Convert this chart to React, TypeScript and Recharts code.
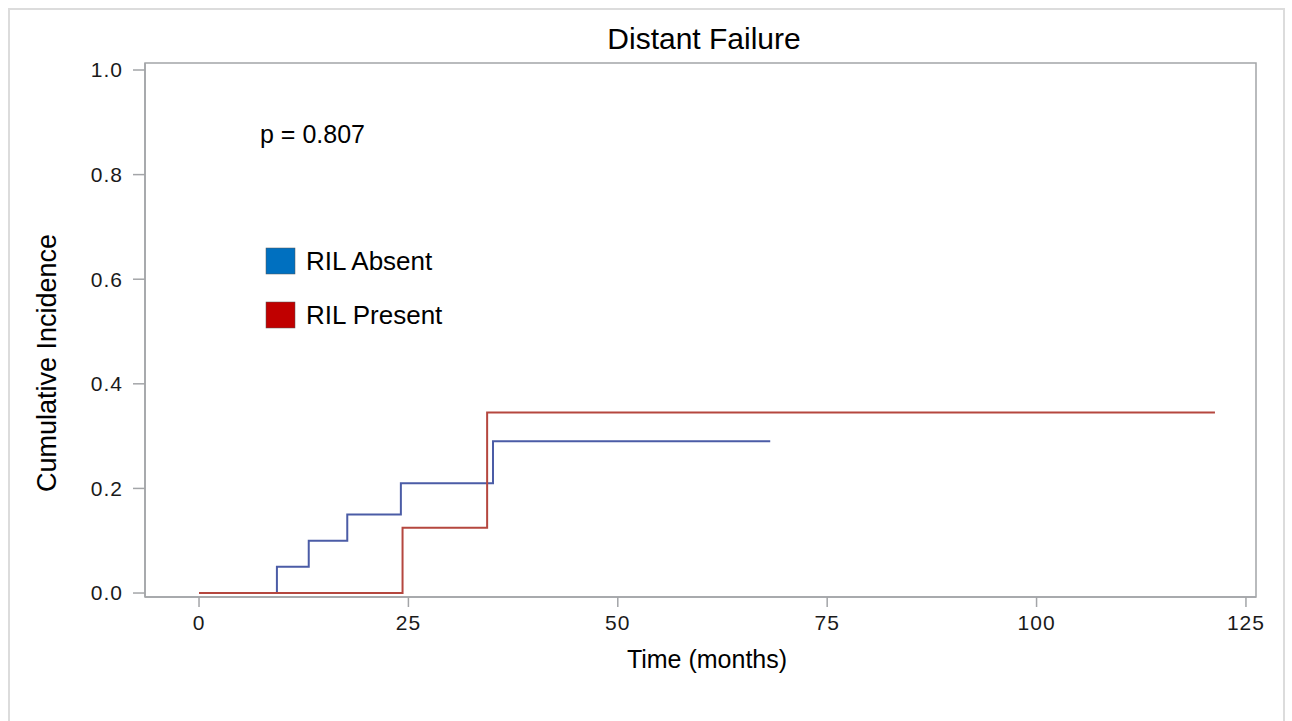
import { LineChart, Line, XAxis, YAxis, ReferenceArea } from 'recharts'

const absentTimes = [0, 9.3, 13.1, 17.7, 24.1, 35.1, 68.2]
const absentValues = [0, 0.05, 0.1, 0.15, 0.21, 0.29, 0.29]
const presentTimes = [0, 24.3, 34.4, 121.3]
const presentValues = [0, 0.125, 0.345, 0.345]
const xTicks = [0, 25, 50, 75, 100, 125]
const yTicks = [0, 0.2, 0.4, 0.6, 0.8, 1.0]
const legendItems = [
  { name: 'RIL Absent', color: '#0070c0' },
  { name: 'RIL Present', color: '#c00000' },
]

const xDomain: [number, number] = [-6.45, 126.2]
const yDomain: [number, number] = [-0.0076, 1.0134]
const FONT = '"Liberation Sans", Arial, Helvetica, sans-serif'
const AXIS = '#a3a5a8'

const absentData = absentTimes.map((t, i) => ({ t, y: absentValues[i] }))
const presentData = presentTimes.map((t, i) => ({ t, y: presentValues[i] }))

export default function App() {
  return (
    <div style={{ position: 'absolute', left: 0, top: 0, width: 1292, height: 721, background: '#fff', overflow: 'hidden' }}>
      <div
        style={{
          position: 'absolute',
          left: 8,
          top: 8,
          width: 1277,
          height: 740,
          border: '2px solid #dcdcdc',
          boxSizing: 'border-box',
        }}
      />
      <div style={{ position: 'absolute', left: 0, top: 0 }}>
        <LineChart width={1292} height={721} margin={{ top: 63, right: 36, left: 85, bottom: 64 }}>
          <XAxis
            type="number"
            dataKey="t"
            domain={xDomain}
            ticks={xTicks}
            allowDataOverflow
            height={60}
            tickSize={10}
            tickMargin={8}
            stroke={AXIS}
            strokeWidth={1.5}
            tick={{ fill: '#1a1a1a', fontSize: 21, fontFamily: FONT, letterSpacing: 1 }}
          />
          <YAxis
            type="number"
            domain={yDomain}
            ticks={yTicks}
            allowDataOverflow
            width={60}
            tickSize={12}
            tickMargin={10}
            stroke={AXIS}
            strokeWidth={1.5}
            tickFormatter={(v: number) => v.toFixed(1)}
            tick={{ fill: '#1a1a1a', fontSize: 21, fontFamily: FONT, letterSpacing: 1 }}
          />
          <ReferenceArea
            x1={xDomain[0]}
            x2={xDomain[1]}
            y1={yDomain[0]}
            y2={yDomain[1]}
            fill="none"
            stroke={AXIS}
            strokeWidth={1.5}
            ifOverflow="extendDomain"
          />
          <Line
            data={absentData}
            dataKey="y"
            type="stepAfter"
            stroke="#4b5ca6"
            strokeWidth={2}
            dot={false}
            isAnimationActive={false}
          />
          <Line
            data={presentData}
            dataKey="y"
            type="stepAfter"
            stroke="#b5473f"
            strokeWidth={2}
            dot={false}
            isAnimationActive={false}
          />
        </LineChart>
      </div>
      <svg
        width={1292}
        height={721}
        style={{ position: 'absolute', left: 0, top: 0, pointerEvents: 'none' }}
        fontFamily={FONT}
      >
        <text x={704} y={49} textAnchor="middle" fontSize={30} fill="#000">
          Distant Failure
        </text>
        <text x={260} y={143} fontSize={25} fill="#000">
          p = 0.807
        </text>
        {legendItems.map((item, i) => (
          <g key={item.name}>
            <rect x={266} y={248 + i * 54} width={29} height={26} fill={item.color} stroke="#555" strokeWidth={0.5} />
            <text x={306} y={270 + i * 54} fontSize={26} fill="#000">
              {item.name}
            </text>
          </g>
        ))}
        <text x={707} y={668} textAnchor="middle" fontSize={25} fill="#000">
          Time (months)
        </text>
        <text x={56} y={363} textAnchor="middle" fontSize={27} fill="#000" transform="rotate(-90, 56, 363)">
          Cumulative Incidence
        </text>
      </svg>
    </div>
  )
}
